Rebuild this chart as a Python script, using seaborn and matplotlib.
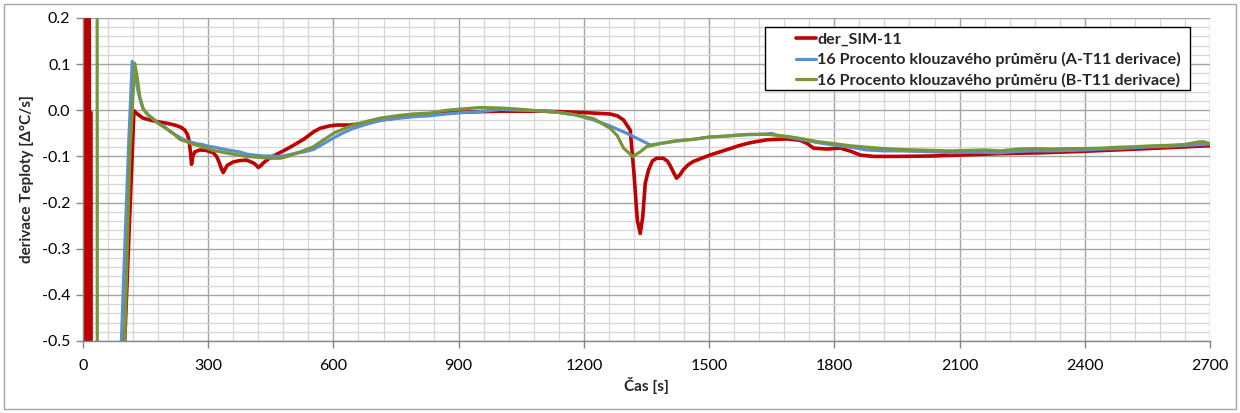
import matplotlib
matplotlib.use("Agg")
import matplotlib.pyplot as plt
from matplotlib.patches import Rectangle
from matplotlib.ticker import MultipleLocator, FormatStrFormatter
import seaborn as sns
import pandas as pd

# ---------------- data ----------------
red_t = [0, 2, 4, 6, 8, 10, 12, 15, 19, 21, 92, 100, 122, 130, 144, 160, 180, 200, 220, 235, 244,
         250, 254, 258, 260, 263, 268, 280, 295, 312, 320, 326, 332, 336, 340, 346, 360, 375, 392,
         408, 415, 420, 426, 432, 445, 456, 480, 504, 530, 552, 568, 590, 608, 640, 680, 720, 760,
         800, 850, 900, 951, 1000, 1050, 1100, 1143, 1200, 1263, 1280, 1295, 1311, 1320, 1328, 1335,
         1341, 1347, 1355, 1364, 1374, 1390, 1400, 1406, 1415, 1422, 1430, 1438, 1450, 1462, 1502,
         1540, 1574, 1600, 1638, 1686, 1718, 1735, 1750, 1782, 1814, 1840, 1862, 1894, 1950, 2037,
         2100, 2197, 2300, 2396, 2500, 2600, 2692, 2700]
red_v = [3, -3, 3, -3, 3, -3, 3, -0.005, -0.005, -3, -3, -0.5, -0.001, -0.008, -0.017, -0.021,
         -0.025, -0.028, -0.032, -0.037, -0.043, -0.052, -0.065, -0.095, -0.117, -0.100, -0.090,
         -0.086, -0.087, -0.092, -0.100, -0.112, -0.128, -0.135, -0.128, -0.119, -0.112, -0.109,
         -0.108, -0.114, -0.119, -0.124, -0.120, -0.114, -0.105, -0.099, -0.088, -0.076, -0.062,
         -0.047, -0.039, -0.034, -0.032, -0.032, -0.027, -0.020, -0.015, -0.011, -0.007, -0.004,
         -0.003, -0.002, -0.002, -0.002, -0.003, -0.005, -0.008, -0.012, -0.021, -0.043, -0.137,
         -0.238, -0.267, -0.231, -0.158, -0.129, -0.110, -0.104, -0.104, -0.110, -0.119, -0.135,
         -0.147, -0.140, -0.129, -0.118, -0.111, -0.097, -0.086, -0.076, -0.070, -0.064, -0.062,
         -0.065, -0.072, -0.082, -0.084, -0.082, -0.089, -0.097, -0.100, -0.100, -0.099, -0.097,
         -0.094, -0.092, -0.089, -0.085, -0.081, -0.077, -0.077]

blue_t = [85, 92, 100, 110, 118, 124, 130, 136, 144, 156, 170, 180, 195, 210, 225, 240, 255, 270,
          285, 300, 315, 330, 345, 360, 375, 392, 410, 430, 450, 472, 490, 510, 530, 552, 575, 600,
          625, 648, 680, 712, 750, 790, 831, 870, 910, 951, 1000, 1050, 1100, 1143, 1180, 1223,
          1260, 1303, 1330, 1359, 1383, 1420, 1462, 1500, 1540, 1574, 1598, 1630, 1650, 1665, 1690,
          1718, 1760, 1797, 1840, 1878, 1920, 1960, 2000, 2037, 2080, 2120, 2160, 2197, 2240, 2280,
          2320, 2360, 2396, 2440, 2480, 2520, 2560, 2600, 2640, 2684, 2700]
blue_v = [-3, -0.50, -0.30, -0.06, 0.106, 0.090, 0.050, 0.025, 0.003, -0.010, -0.020, -0.028,
          -0.035, -0.047, -0.055, -0.063, -0.068, -0.072, -0.074, -0.078, -0.080, -0.083, -0.086,
          -0.088, -0.090, -0.095, -0.097, -0.099, -0.099, -0.100, -0.097, -0.093, -0.090, -0.085,
          -0.073, -0.060, -0.048, -0.039, -0.030, -0.022, -0.018, -0.014, -0.012, -0.008, -0.005,
          -0.003, 0.002, 0.000, -0.001, -0.005, -0.010, -0.021, -0.033, -0.050, -0.062, -0.075,
          -0.072, -0.067, -0.063, -0.058, -0.056, -0.053, -0.053, -0.052, -0.050, -0.055, -0.058,
          -0.063, -0.070, -0.075, -0.080, -0.086, -0.088, -0.088, -0.089, -0.090, -0.092, -0.091,
          -0.091, -0.092, -0.089, -0.088, -0.088, -0.087, -0.086, -0.084, -0.083, -0.081, -0.079,
          -0.078, -0.076, -0.074, -0.073]

green_t = [33, 35, 92, 100, 112, 124, 130, 136, 144, 156, 170, 180, 195, 216, 232, 248, 265, 280,
           312, 340, 360, 392, 420, 450, 472, 490, 512, 530, 552, 575, 600, 625, 648, 680, 712, 750,
           790, 831, 870, 910, 951, 1000, 1050, 1100, 1143, 1180, 1223, 1263, 1280, 1295, 1317,
           1335, 1350, 1383, 1420, 1462, 1500, 1540, 1574, 1598, 1630, 1650, 1690, 1718, 1760, 1797,
           1840, 1878, 1920, 1960, 2000, 2037, 2080, 2120, 2160, 2197, 2240, 2280, 2320, 2360, 2396,
           2440, 2480, 2520, 2560, 2600, 2640, 2670, 2684, 2700]
green_v = [3, -3, -3, -0.50, -0.10, 0.102, 0.070, 0.030, 0.003, -0.010, -0.020, -0.028, -0.037,
           -0.050, -0.063, -0.068, -0.074, -0.077, -0.087, -0.092, -0.095, -0.100, -0.102, -0.104,
           -0.104, -0.100, -0.093, -0.087, -0.079, -0.065, -0.050, -0.040, -0.032, -0.024, -0.017,
           -0.012, -0.008, -0.006, 0.000, 0.003, 0.006, 0.005, 0.002, -0.002, -0.005, -0.010,
           -0.018, -0.039, -0.055, -0.082, -0.100, -0.090, -0.079, -0.072, -0.066, -0.063, -0.058,
           -0.056, -0.054, -0.052, -0.052, -0.053, -0.057, -0.061, -0.068, -0.072, -0.077, -0.080,
           -0.083, -0.085, -0.086, -0.087, -0.088, -0.087, -0.086, -0.088, -0.084, -0.083, -0.084,
           -0.083, -0.083, -0.082, -0.080, -0.079, -0.077, -0.076, -0.074, -0.069, -0.068, -0.072]

labels = ["der_SIM-11",
          "16 Procento klouzavého průměru (A-T11 derivace)",
          "16 Procento klouzavého průměru (B-T11 derivace)"]
x_ticks = [0, 300, 600, 900, 1200, 1500, 1800, 2100, 2400, 2700]
x_label = "Čas [s]"
y_label = "derivace Teploty [Δ°C/s]"

# ---------------- plot ----------------
sns.set_theme(style="white")
plt.rcParams["font.family"] = ["Lato", "DejaVu Sans"]

W, H = 1240, 413
fig = plt.figure(figsize=(12.4, 4.13), dpi=100)
ax = fig.add_axes([83 / W, 1 - 341 / H, 1127 / W, 323 / H])

colors = ["#C00000", "#5B8FD0", "#77963C"]
series = [(red_t, red_v), (blue_t, blue_v), (green_t, green_v)]
widths = [2.6, 2.3, 2.3]
for (t, v), lab, c, lw in zip(series, labels, colors, widths):
    df = pd.DataFrame({"t": t, "v": v})
    sns.lineplot(data=df, x="t", y="v", sort=False, estimator=None, color=c,
                 linewidth=lw, ax=ax, label=lab)

ax.set_xlim(0, 2700)
ax.set_ylim(-0.5, 0.2)
ax.set_xticks(x_ticks)
ax.xaxis.set_minor_locator(MultipleLocator(60))
ax.yaxis.set_major_locator(MultipleLocator(0.1))
ax.yaxis.set_minor_locator(MultipleLocator(0.02))
ax.yaxis.set_major_formatter(FormatStrFormatter("%.1f"))

ax.grid(which="major", color="#A3A3A3", linewidth=1.0)
ax.grid(which="minor", color="#D6D6D6", linewidth=0.9)
ax.set_axisbelow(True)

for s in ["top", "right"]:
    ax.spines[s].set_visible(False)
for s in ["left", "bottom"]:
    ax.spines[s].set_color("#868686")
    ax.spines[s].set_linewidth(1.0)

ax.tick_params(which="major", axis="both", length=5, width=1, color="#868686",
               labelsize=11.5, labelcolor="black", direction="out", pad=8)
ax.tick_params(which="major", axis="y", pad=4)
ax.tick_params(which="minor", length=0)
ax.tick_params(axis="x", bottom=True)
ax.tick_params(axis="y", left=True)

ax.set_xlabel(x_label, fontsize=11, fontweight="bold", labelpad=3)
ax.set_ylabel(y_label, fontsize=11, fontweight="bold", labelpad=6)

# legend content (frame drawn separately to match the wide left padding)
leg = ax.legend(loc="upper right", bbox_to_anchor=((1181 - 83) / 1127, (341 - 32) / 323),
                frameon=False, handlelength=1.3, handletextpad=0.05, borderpad=0.0,
                labelspacing=0.36, borderaxespad=0.0,
                prop={"size": 11.6, "weight": "bold"})
leg.set_zorder(6)
box = Rectangle((765 / W, 1 - 90 / H), 425 / W, 63 / H, transform=fig.transFigure,
                facecolor="white", edgecolor="black", linewidth=1.0, zorder=5.5,
                clip_on=False)
ax.add_artist(box)

fig.patches.append(Rectangle((4 / W, 4 / H), 1232 / W, 405 / H,
                             transform=fig.transFigure, fill=False,
                             edgecolor="#A6A6A6", linewidth=1.0))

fig.savefig("out.png", dpi=100, facecolor="white")
